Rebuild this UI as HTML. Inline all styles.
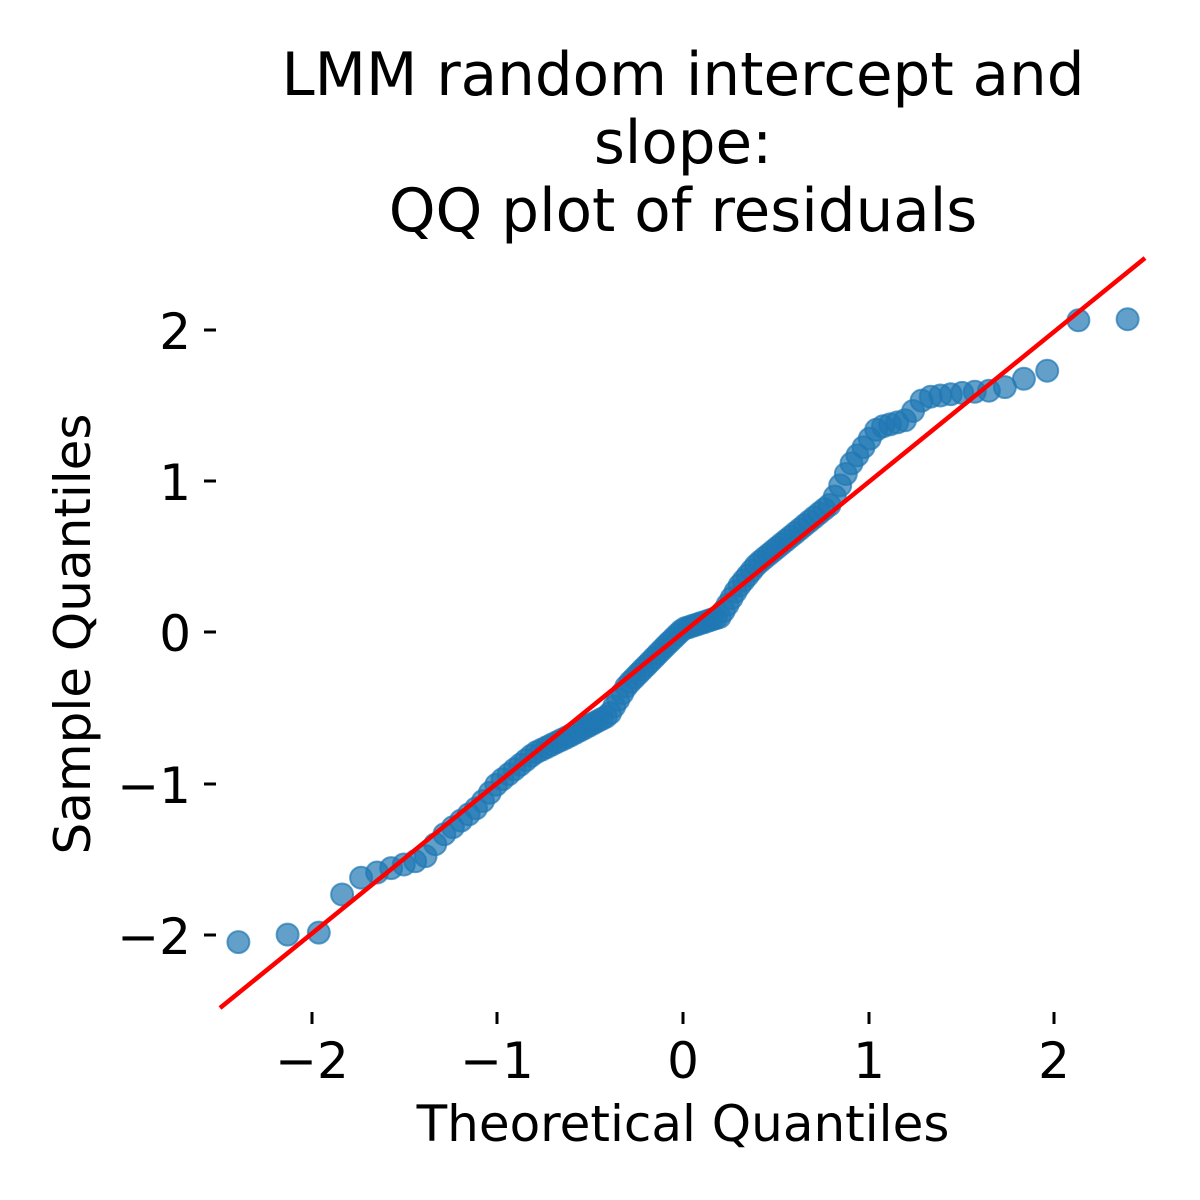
<!DOCTYPE html>
<html><head><meta charset="utf-8"><style>
html,body{margin:0;padding:0;background:#fff;}
svg{display:block;font-family:"DejaVu Sans","Liberation Sans",sans-serif;}
</style></head><body>
<svg id="s" width="1200" height="1200" viewBox="0 0 1200 1200" xmlns="http://www.w3.org/2000/svg">
<rect width="1200" height="1200" fill="#fff"/>
<g font-size="59.5" text-anchor="middle" fill="#000">
<text x="683" y="95">LMM random intercept and</text>
<text x="683" y="163">slope:</text>
<text x="683" y="231">QQ plot of residuals</text>
</g>
<g stroke="#000" stroke-width="3">
<line x1="204" y1="330" x2="216" y2="330"/><line x1="204" y1="481" x2="216" y2="481"/>
<line x1="204" y1="632" x2="216" y2="632"/><line x1="204" y1="784" x2="216" y2="784"/>
<line x1="204" y1="935" x2="216" y2="935"/>
<line x1="312" y1="1012" x2="312" y2="1024"/><line x1="497" y1="1012" x2="497" y2="1024"/>
<line x1="683" y1="1012" x2="683" y2="1024"/><line x1="869" y1="1012" x2="869" y2="1024"/>
<line x1="1054" y1="1012" x2="1054" y2="1024"/>
</g>
<g font-size="50" fill="#000" text-anchor="end">
<text x="191" y="349">2</text><text x="191" y="500">1</text><text x="191" y="651">0</text>
<text x="191" y="803">−1</text><text x="191" y="954">−2</text>
</g>
<g font-size="50" fill="#000" text-anchor="middle">
<text x="312" y="1078">−2</text><text x="497" y="1078">−1</text><text x="683" y="1078">0</text>
<text x="869" y="1078">1</text><text x="1054" y="1078">2</text>
<text x="683" y="1141">Theoretical Quantiles</text>
<text transform="translate(90,634) rotate(-90)">Sample Quantiles</text>
</g>
<g id="pts"></g>
<line x1="220" y1="1008" x2="1145" y2="258" stroke="#ff0000" stroke-width="4.5"/>
</svg>
<script>
function inv(p){var a=[-39.69683028665376,220.9460984245205,-275.9285104469687,138.357751867269,-30.66479806614716,2.506628277459239],b=[-54.47609879822406,161.5858368580409,-155.6989798598866,66.80131188771972,-13.28068155288572],c=[-0.007784894002430293,-0.3223964580411365,-2.400758277161838,-2.549732539343734,4.374664141464968,2.938163982698783],d=[0.007784695709041462,0.3224671290700398,2.445134137142996,3.754408661907416];var q,r;if(p<0.02425){q=Math.sqrt(-2*Math.log(p));return (((((c[0]*q+c[1])*q+c[2])*q+c[3])*q+c[4])*q+c[5])/((((d[0]*q+d[1])*q+d[2])*q+d[3])*q+1);}if(p>1-0.02425){q=Math.sqrt(-2*Math.log(1-p));return -(((((c[0]*q+c[1])*q+c[2])*q+c[3])*q+c[4])*q+c[5])/((((d[0]*q+d[1])*q+d[2])*q+d[3])*q+1);}q=p-0.5;r=q*q;return (((((a[0]*r+a[1])*r+a[2])*r+a[3])*r+a[4])*r+a[5])*q/(((((b[0]*r+b[1])*r+b[2])*r+b[3])*r+b[4])*r+1);}
var T=[[-2.5,-2.05],[-2.4,-2.05],[-2.13,-2.0],[-1.97,-2.0],[-1.85,-1.75],[-1.75,-1.63],[-1.6,-1.57],[-1.4,-1.5],[-1.3,-1.35],[-1.1,-1.15],[-1.0,-1.0],[-0.8,-0.8],[-0.6,-0.68],[-0.4,-0.55],[-0.3,-0.35],[-0.1,-0.1],[0,0.02],[0.2,0.1],[0.3,0.3],[0.4,0.45],[0.6,0.65],[0.8,0.85],[0.9,1.1],[1.05,1.35],[1.2,1.4],[1.3,1.55],[1.5,1.58],[1.7,1.6],[1.85,1.68],[1.97,1.73],[2.13,2.06],[2.5,2.07]];
function f(x){for(var i=0;i<T.length-1;i++){if(x<=T[i+1][0]){var t=(x-T[i][0])/(T[i+1][0]-T[i][0]);return T[i][1]+t*(T[i+1][1]-T[i][1]);}}return 2.07;}
var n=120,h='';for(var i=1;i<=n;i++){var x=inv(i/(n+1)),y=f(x);var px=683+x*185.5,py=632-y*151.3;h+='<circle cx="'+px.toFixed(1)+'" cy="'+py.toFixed(1)+'" r="11" fill="#1f77b4" fill-opacity="0.7" stroke="#1f77b4" stroke-opacity="0.7" stroke-width="2"/>';}
document.getElementById('pts').innerHTML=h;
</script>
</body></html>
